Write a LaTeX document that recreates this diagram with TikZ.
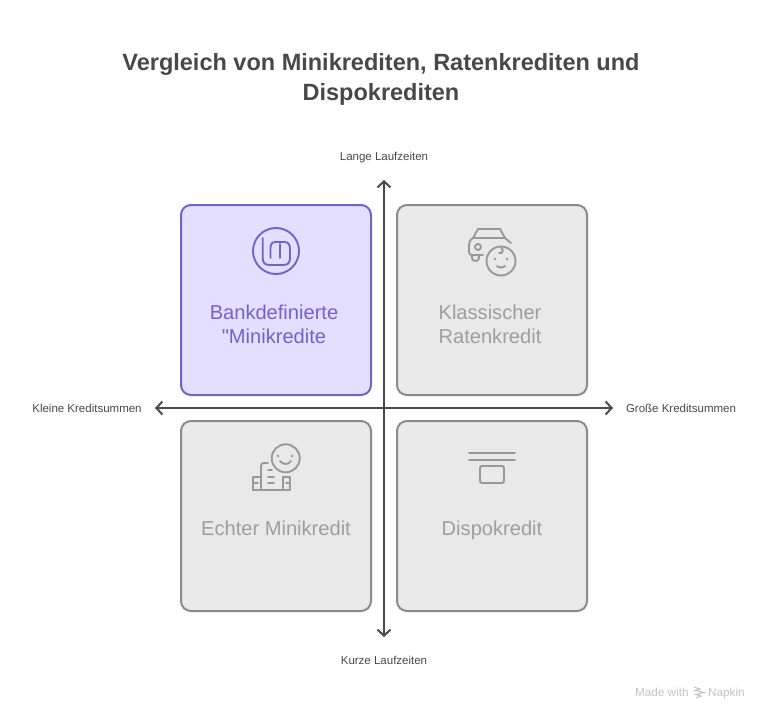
\documentclass[tikz,border=0pt]{standalone}
\usepackage{fontspec}
\setmainfont{Liberation Sans}
\newfontfamily\plainq{Liberation Sans}
\usetikzlibrary{arrows.meta}
\definecolor{purp}{HTML}{7560D0}
\definecolor{purpfill}{HTML}{E5DFFF}
\definecolor{grayfill}{HTML}{E9E9E9}
\definecolor{graystroke}{HTML}{8A8A8A}
\definecolor{graytext}{HTML}{9E9E9E}
\definecolor{icongray}{HTML}{999999}
\definecolor{axiscol}{HTML}{4A4A4A}
\definecolor{titlecol}{HTML}{484848}
\definecolor{markcol}{HTML}{C4C4C4}
\tikzset{
  x=1pt,y=-1pt,
  quad/.style={draw=graystroke,fill=grayfill,line width=2pt,rounded corners=10pt,minimum width=190pt,minimum height=190pt,inner sep=0pt},
  quadp/.style={quad,draw=purp,fill=purpfill},
  qlabel/.style={font=\fontsize{20.1}{24}\selectfont,text=graytext,align=center,inner sep=0pt},
  qlabelp/.style={qlabel,text=purp},
  axlabel/.style={font=\fontsize{11.5}{13}\selectfont,text=titlecol,inner sep=0pt},
  axisline/.style={draw=axiscol,line width=2pt,{Straight Barb[length=6pt,width=13pt,line width=2pt]}-{Straight Barb[length=6pt,width=13pt,line width=2pt]}},
  ico/.style={draw=icongray,line width=1.9pt,line cap=round,line join=round},
  icop/.style={draw=purp,line width=1.9pt,line cap=round,line join=round},
}
\begin{document}
\begin{tikzpicture}
\useasboundingbox (0,0) rectangle (768,720);
\fill[white] (0,0) rectangle (768,720);

\node[font=\bfseries\fontsize{23.5}{30}\selectfont,text=titlecol,align=center,inner sep=0pt] (title) at (381,79)
  {Vergleich von Minikrediten, Ratenkrediten und\\Dispokrediten};

\node[quadp] (q1) at (276,300) {};
\node[quad] (q2) at (492,300) {};
\node[quad] (q3) at (276,516) {};
\node[quad] (q4) at (492,516) {};

\coordinate (left) at (155,408);
\coordinate (right) at (613,408);
\coordinate (top) at (384,180);
\coordinate (bottom) at (384,637);
\draw[axisline] (left) -- (right);
\draw[axisline] (bottom) -- (top);

\node[axlabel] (lt) at (384,158) {Lange Laufzeiten};
\node[axlabel] (lb) at (384,660) {Kurze Laufzeiten};
\node[axlabel] (ll) at (87,408.5) {Kleine Kreditsummen};
\node[axlabel] (lr) at (681,408.5) {Große Kreditsummen};

\node[qlabelp] (t1) at (274,324) {Bankdefinierte\\{\plainq"}Minikredite};
\node[qlabel] (t2) at (490,324) {Klassischer\\Ratenkredit};
\node[qlabel] (t3) at (276,528) {Echter Minikredit};
\node[qlabel] (t4) at (492,530.5) {Dispokredit};

% Mint-style icon
\draw[icop] (276,251) circle (23);
\draw[icop] (262.7,238) -- (262.7,258) .. controls (262.7,263) and (265,265) .. (270,265) -- (283,265) .. controls (288,265) and (290,263) .. (290,258) -- (290,249) .. controls (290,244) and (288,242) .. (284,242) -- (276,242) .. controls (272,242) and (270.5,244) .. (270.5,248) -- (270.5,258);
\draw[icop] (280,244) -- (280,258);

% car and face icon
\draw[ico] (473,238) -- (478,229) -- (500,229) -- (505,238) -- (511,243);
\draw[ico] (473,238) -- (505,238);
\draw[ico] (473,238) .. controls (470,240) and (469,242) .. (469,245) -- (469,252) .. controls (469,254) and (470,255) .. (472,255) -- (483,255);
\draw[ico] (472,255) -- (472,258) .. controls (472,262) and (479,262) .. (479,258) -- (479,255);
\draw[ico] (478,247) circle (3);
\draw[ico] (501,261) circle (14.5);
\fill[icongray] (495,259) circle (1.3) (507,259) circle (1.3);
\draw[ico] (497,266) .. controls (499,268) and (503,268) .. (505,266);
\draw[ico] (501,247) .. controls (504,250) and (503,254) .. (499,253);

% building and face icon
\draw[ico] (285.7,458.3) circle (14);
\fill[icongray] (278,456) circle (1.3) (292,456) circle (1.3);
\draw[ico] (280,461) .. controls (283,465) and (288,465) .. (291,461);
\draw[ico] (261,490) -- (261,466) .. controls (261,464) and (262,463) .. (264,463) -- (268,463);
\draw[ico] (253,490) -- (290,490);
\draw[ico] (261,477) -- (253,477) -- (253,490);
\draw[ico] (283,477) -- (290,477) -- (290,490);
\draw[ico] (283,477) -- (283,490);
\draw[ico] (268,470) -- (272,470) (268,477) -- (274,477) (268,483) -- (274,483);
\draw[ico] (253,483) -- (258,483) (286,483) -- (290,483);

% overdraft icon
\draw[ico] (469,452.7) -- (515,452.7);
\draw[ico] (469,460) -- (515,460);
\draw[ico,rounded corners=2pt] (480,466) rectangle (504,483);

% watermark
\node[font=\fontsize{11.7}{13}\selectfont,text=markcol,anchor=base west,inner sep=0pt] (mw) at (635,696) {Made with};
\node[font=\fontsize{11.7}{13}\selectfont,text=markcol,anchor=base west,inner sep=0pt] (mn) at (708,696) {Napkin};
\draw[draw=markcol,line width=1.1pt] (694,687) -- (700,689) -- (695,690.5) -- (704,692.5) -- (696,694.5) -- (701,696) -- (696,698);
\end{tikzpicture}
\end{document}
